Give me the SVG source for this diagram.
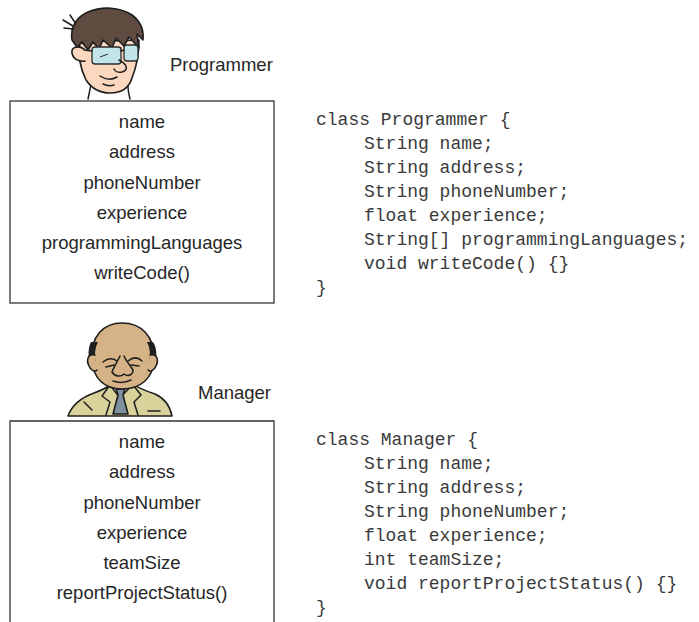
<svg xmlns="http://www.w3.org/2000/svg" width="699" height="622" viewBox="0 0 699 622">
  <style>
    .lbl { font-family: "Liberation Sans", Arial, sans-serif; font-size: 18.5px; fill: #262626; }
    .attr { font-family: "Liberation Sans", Arial, sans-serif; font-size: 18.5px; fill: #262626; text-anchor: middle; }
    .code { font-family: "Liberation Mono", "Courier New", monospace; font-size: 18px; fill: #3a3a3a; white-space: pre; }
    .box { fill: #ffffff; stroke: #333333; stroke-width: 1.3; }
    .ink { stroke: #1e1e1e; stroke-width: 1.6; stroke-linejoin: round; stroke-linecap: round; }
    .line { fill: none; stroke: #1e1e1e; stroke-width: 1.5; stroke-linecap: round; stroke-linejoin: round; }
  </style>
  <rect width="699" height="622" fill="#ffffff"/>

  <!-- Programmer figure -->
  <g id="programmer-figure">
    <!-- neck -->
    <path class="line" d="M91,84 C90,90 89,94 88,99"/>
    <path class="line" d="M128,86 C128,91 129,95 130,99"/>
    <!-- face -->
    <path class="ink" fill="#fbd8bf" d="M80,42 C78,55 80,68 86,80 C92,89 100,93 110,93 C121,93 129,88 132,78 C136,68 139,56 139,40 Z"/>
    <!-- ear -->
    <path class="ink" fill="#fbd8bf" d="M84,49 C78,45 71,47 72,53 C73,59 79,62 85,61"/>
    <!-- hair -->
    <path class="ink" fill="#5f4b40" d="M72,40 C70,28 76,17 88,12 C102,6 120,7 132,15 C140,21 144,30 143,40 L137,34 L139,48 L129,37 L124,46 L116,38 L112,48 L103,40 L99,49 L93,42 L88,50 L82,42 L77,47 Z"/>
    <path class="line" d="M63,20 L73,26"/>
    <path class="line" d="M64,28 L73,29"/>
    <path class="line" d="M70,15 L76,24"/>
    <!-- glasses -->
    <path class="line" d="M93,48 L121,48"/>
    <rect x="92" y="47" width="29" height="17" rx="3" fill="#c2e5ea" stroke="#2b2b2b" stroke-width="1.3"/>
    <rect x="124" y="45" width="14" height="16" rx="3" fill="#c2e5ea" stroke="#2b2b2b" stroke-width="1.3"/>
    <path class="line" d="M121,51 L124,50"/>
    <path class="line" d="M92,51 L84,50"/>
    <path fill="none" stroke="#2b2b2b" stroke-width="1" d="M100,57 L108,54"/>
    <!-- nose -->
    <path class="line" d="M119,60 C127,64 129,70 122,72 C118,73 115,71 114,69"/>
    <!-- mouth -->
    <path class="line" d="M100,76 C106,80 112,80 117,77"/>
    <path class="line" d="M103,84 C107,86 111,86 114,85"/>
  </g>
  <text class="lbl" x="170" y="71">Programmer</text>

  <!-- Programmer class box -->
  <g id="programmer-box">
    <rect class="box" x="10" y="101" width="264" height="202"/>
    <text class="attr" x="142" y="128">name</text>
    <text class="attr" x="142" y="158">address</text>
    <text class="attr" x="142" y="188.5">phoneNumber</text>
    <text class="attr" x="142" y="219">experience</text>
    <text class="attr" x="142" y="249">programmingLanguages</text>
    <text class="attr" x="142" y="279">writeCode()</text>
  </g>

  <!-- Programmer class source -->
  <g id="programmer-code">
    <text class="code" x="316" y="125">class Programmer {</text>
    <text class="code" x="364" y="149">String name;</text>
    <text class="code" x="364" y="173">String address;</text>
    <text class="code" x="364" y="197">String phoneNumber;</text>
    <text class="code" x="364" y="221">float experience;</text>
    <text class="code" x="364" y="245">String[] programmingLanguages;</text>
    <text class="code" x="364" y="269">void writeCode() {}</text>
    <text class="code" x="316" y="293">}</text>
  </g>

  <!-- Manager figure -->
  <g id="manager-figure">
    <!-- suit -->
    <path class="ink" fill="#d9d39b" d="M68,416 C72,405 80,398 94,393 C102,390 108,387 112,384 L133,384 C138,388 146,391 155,394 C164,398 170,406 172,416 Z"/>
    <!-- shirt -->
    <path class="ink" fill="#ffffff" d="M110,385 L120,398 L132,385 Z" stroke-width="1.2"/>
    <!-- tie -->
    <path class="ink" fill="#7d909c" stroke-width="1.2" d="M116,389 L125,389 L123,395 L128,414 L113,414 L118,395 Z"/>
    <!-- lapels -->
    <path class="line" d="M110,385 L102,396 L110,402 L106,415"/>
    <path class="line" d="M133,385 L141,395 L134,402 L138,415"/>
    <path class="line" d="M148,411 L160,411"/>
    <path class="line" d="M84,402 L92,410"/>
    <!-- head -->
    <path class="ink" fill="#d6b386" d="M92,360 C90,336 104,323 122,323 C141,323 155,336 154,360 C153,378 141,389 122,389 C104,389 93,378 92,360 Z"/>
    <!-- hair at the sides -->
    <path fill="#1e1e1e" d="M91,342 C88,348 88,356 90,362 L96,362 C94,356 95,348 98,342 Z"/>
    <path fill="#1e1e1e" d="M153,342 C157,348 157,356 155,362 L149,362 C151,356 150,348 147,342 Z"/>
    <!-- ears -->
    <path class="ink" fill="#d6b386" d="M95,355 C88,353 86,360 89,366 C91,371 95,372 97,370"/>
    <path class="ink" fill="#d6b386" d="M150,355 C157,353 159,360 156,366 C154,371 150,372 148,370"/>
    <!-- brows, eyes, nose -->
    <path class="line" d="M103,362 C108,358 113,358 117,361"/>
    <path class="line" d="M128,361 C133,357 138,357 142,361"/>
    <path class="line" d="M120,356 C117,362 114,367 112,372 C115,377 121,377 124,374 C128,377 133,375 133,370 C130,365 126,361 124,356"/>
    <path class="line" d="M106,367 L114,365"/>
    <path class="line" d="M131,365 L139,366"/>
    <!-- mouth -->
    <path class="line" d="M113,381 C119,383 125,383 131,380"/>
  </g>
  <text class="lbl" x="198" y="399">Manager</text>

  <!-- Manager class box (runs off the bottom edge) -->
  <g id="manager-box">
    <path fill="#ffffff" stroke="#333333" stroke-width="1.3" d="M10,623 L10,421 L274,421 L274,623"/>
    <text class="attr" x="142" y="448">name</text>
    <text class="attr" x="142" y="478">address</text>
    <text class="attr" x="142" y="508.5">phoneNumber</text>
    <text class="attr" x="142" y="539">experience</text>
    <text class="attr" x="142" y="569">teamSize</text>
    <text class="attr" x="142" y="599">reportProjectStatus()</text>
  </g>

  <!-- Manager class source -->
  <g id="manager-code">
    <text class="code" x="316" y="445">class Manager {</text>
    <text class="code" x="364" y="469">String name;</text>
    <text class="code" x="364" y="493">String address;</text>
    <text class="code" x="364" y="517">String phoneNumber;</text>
    <text class="code" x="364" y="541">float experience;</text>
    <text class="code" x="364" y="565">int teamSize;</text>
    <text class="code" x="364" y="589">void reportProjectStatus() {}</text>
    <text class="code" x="316" y="613">}</text>
  </g>

  <!-- no connectors in this figure -->
  <g id="connectors"/>
</svg>
